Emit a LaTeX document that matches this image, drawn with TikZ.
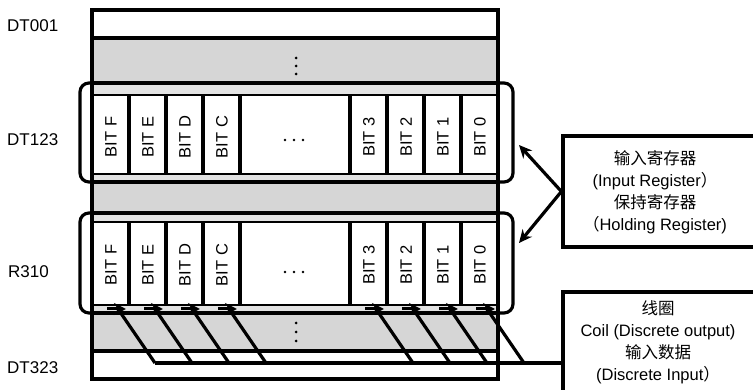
\documentclass[tikz,border=0pt]{standalone}
\usepackage{fontspec}
\setmainfont{Liberation Sans}
\newfontfamily\cjk{Noto Sans CJK SC}
\usetikzlibrary{arrows.meta,calc}
\definecolor{rowgray}{HTML}{D6D6D6}
\definecolor{stripgray}{HTML}{E2E2E2}
\begin{document}
\begin{tikzpicture}[x=1pt,y=-1pt,
  mainline/.style={line width=3.2pt},
  thinline/.style={line width=2.2pt},
  bitlabel/.style={rotate=90,font=\fontsize{16.5}{19}\selectfont,inner sep=0pt},
  rowlabel/.style={anchor=west,font=\fontsize{17}{20}\selectfont,inner sep=0pt},
  boxtext/.style={align=center,font=\fontsize{16.5}{22}\selectfont,inner sep=0pt},
  bracket/.style={line width=3.2pt,rounded corners=9pt},
  bigarrow/.style={line width=3.2pt,-{Stealth[length=13pt,width=12pt]}},
  bitarrow/.style={line width=3pt,-{Stealth[length=12pt,width=12pt]}},
  dotfill/.style={circle,fill=black,inner sep=0pt,minimum size=3pt}
]
\useasboundingbox (0,0) rectangle (753,390);
\clip (0,0) rectangle (753,390);
\fill[white] (0,0) rectangle (753,390);
% fills
\fill[rowgray] (92,38) rectangle (498,83);
\fill[stripgray] (92,83) rectangle (498,95);
\fill[stripgray] (92,174) rectangle (498,182);
\fill[rowgray] (92,182) rectangle (498,213);
\fill[stripgray] (92,213) rectangle (498,222);
\fill[stripgray] (92,305) rectangle (498,313);
\fill[rowgray] (92,313) rectangle (498,351);
% horizontal grid lines
\foreach \yy in {38,83,182,213,313,351}
  \draw[mainline] (92,\yy) -- (498,\yy);
\foreach \yy in {95,174,222,305}
  \draw[thinline] (92,\yy) -- (498,\yy);
% vertical cell lines
\foreach \xx in {129,166,203,240,350,387,424,461} {
  \draw[mainline] (\xx,95) -- (\xx,174);
  \draw[mainline] (\xx,222) -- (\xx,305);
}
% main frame
\draw[mainline] (92,10) rectangle (498,379);
% vertical dots
\foreach \yy [count=\k] in {58,66,74} \node[dotfill] (ud\k) at (296,\yy) {};
\foreach \yy [count=\k] in {323,332,341} \node[dotfill] (ld\k) at (296,\yy) {};
% horizontal dots in cells
\foreach \xx [count=\k] in {285,294,303} {
  \node[dotfill,minimum size=2.6pt] (uh\k) at (\xx,140) {};
  \node[dotfill,minimum size=2.6pt] (lh\k) at (\xx,272) {};
}
% bit labels
\foreach \xx/\lab [count=\k] in {111/F,148/E,185/D,222/C,369/3,406/2,443/1,480/0} {
  \node[bitlabel] (ub\k) at (\xx,137) {BIT \lab};
  \node[bitlabel] (lb\k) at (\xx,265) {BIT \lab};
}
% row labels
\node[rowlabel] (dt001) at (7,26) {DT001};
\node[rowlabel] (dt123) at (7,140) {DT123};
\node[rowlabel] (r310) at (8,272) {R310};
\node[rowlabel] (dt323) at (7,368) {DT323};
% brackets
\draw[bracket] (80,83) rectangle (513,182);
\draw[bracket] (80,213) rectangle (513,313);
\coordinate (upbr) at (519,145);
\coordinate (lowbr) at (519,243);
% right boxes
\node[draw,mainline,minimum width=200pt,minimum height=111pt,inner sep=0pt] (iobox) at (663,191.5) {};
\node[boxtext] (iotext) at (655,192) {{\cjk 输入寄存器}\\(Input Register{\cjk ）}\\{\cjk 保持寄存器}\\{\cjk （}Holding Register)};
\node[draw,mainline,minimum width=200pt,minimum height=120pt,inner sep=0pt] (coilbox) at (663,352) {};
\node[boxtext] (coiltext) at (658,342) {{\cjk 线圈}\\Coil (Discrete output)\\{\cjk 输入数据}\\(Discrete Input{\cjk ）}};
% box arrows
\draw[bigarrow] (iobox.west) -- (upbr);
\draw[bigarrow] (iobox.west) -- (lowbr);
% bit arrows
\foreach \r [count=\i] in {129,166,203,240,387,424,461,498} {
  \coordinate (bt\i) at (\r+26,363);
  \coordinate (tp\i) at (\r-11,309);
  \coordinate (tipa\i) at (\r-22,309);
  \coordinate (tipb\i) at (\r-3,309);
  \draw[mainline] (bt\i) -- (tp\i);
  \draw[bitarrow] (tipa\i) -- (tipb\i);
}
% bus
\draw[mainline] (bt1) -- (bt1 -| coilbox.west);
\end{tikzpicture}
\end{document}
